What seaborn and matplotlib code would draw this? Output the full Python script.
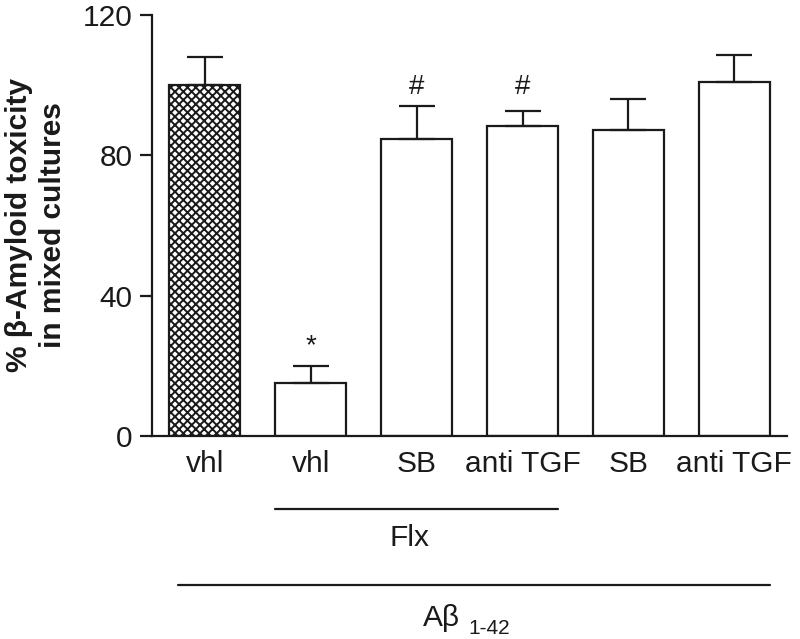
import numpy as np
import pandas as pd
import matplotlib
matplotlib.use("Agg")
import matplotlib.pyplot as plt
import matplotlib.transforms as mtransforms
import seaborn as sns

# ---- data ----
groups = ["g1", "g2", "g3", "g4", "g5", "g6"]
tick_labels = ["vhl", "vhl", "SB", "anti TGF", "SB", "anti TGF"]
means = [100.0, 15.2, 84.7, 88.4, 87.1, 101.0]
sem = [8.1, 4.8, 9.3, 4.3, 8.9, 7.6]
marks = ["", "*", "#", "#", "", ""]
mark_y = [0, 25.5, 99.5, 99.5, 0, 0]

sns.set_style("ticks")
plt.rcParams["font.family"] = ["Liberation Sans", "DejaVu Sans"]
plt.rcParams["hatch.linewidth"] = 1.4
plt.rcParams["hatch.color"] = "#111111"

df = pd.DataFrame({"group": groups, "value": means})

fig = plt.figure(figsize=(8, 6.39), dpi=100)
ax = fig.add_axes([0.19, 0.3177, 0.794, 0.659])

sns.barplot(data=df, x="group", y="value", color="white", edgecolor="#1a1a1a",
            linewidth=1.6, width=0.67, errorbar=None, ax=ax, saturation=1)
for i, p in enumerate(ax.patches):
    p.set_facecolor("white")
    p.set_edgecolor("#1a1a1a")
    p.set_linewidth(1.6)
    if i == 0:
        p.set_hatch("xxxx")

x = np.arange(len(groups))
ax.errorbar(x, means, yerr=[np.zeros(len(sem)), sem], fmt="none",
            ecolor="#1a1a1a", elinewidth=1.6, capsize=13, capthick=1.6, zorder=1)

for xi, m, my in zip(x, marks, mark_y):
    if m:
        ax.text(xi, my, m, ha="center", va="center", fontsize=20, color="#1a1a1a")

ax.set_xlim(-0.5, 5.5)
ax.set_ylim(0, 120)
ax.set_yticks([0, 40, 80, 120])
ax.set_xticks(x)
ax.set_xticklabels(tick_labels)
ax.tick_params(axis="y", labelsize=21.5, length=9, width=1.6, pad=5, colors="#1a1a1a")
ax.tick_params(axis="x", labelsize=21.5, length=0, pad=10, colors="#1a1a1a")
ax.set_xlabel("")
ax.set_ylabel("")
fig.text(36 / 800, 1 - 225 / 639, "% β-Amyloid toxicity\nin mixed cultures",
         rotation=90, ha="center", va="center", multialignment="center",
         fontsize=21.5, fontweight="bold", color="#1a1a1a", linespacing=1.25)
sns.despine(ax=ax, right=True, top=True)
for s in ["left", "bottom"]:
    ax.spines[s].set_linewidth(1.6)
    ax.spines[s].set_color("#1a1a1a")

trans = mtransforms.blended_transform_factory(ax.transData, ax.transAxes)
ax.plot([0.665, 3.335], [-0.173, -0.173], transform=trans, color="#1a1a1a",
        lw=1.6, clip_on=False)
ax.text(1.93, -0.242, "Flx", transform=trans, ha="center", va="center",
        fontsize=21.5, color="#1a1a1a")
ax.plot([-0.255, 5.335], [-0.354, -0.354], transform=trans, color="#1a1a1a",
        lw=1.6, clip_on=False)
ax.text(2.06, -0.432, "Aβ", transform=trans, ha="left", va="center",
        fontsize=21.5, color="#1a1a1a")
ax.text(2.49, -0.456, "1-42", transform=trans, ha="left", va="center",
        fontsize=15, color="#1a1a1a")

fig.savefig("out.png", dpi=100)
